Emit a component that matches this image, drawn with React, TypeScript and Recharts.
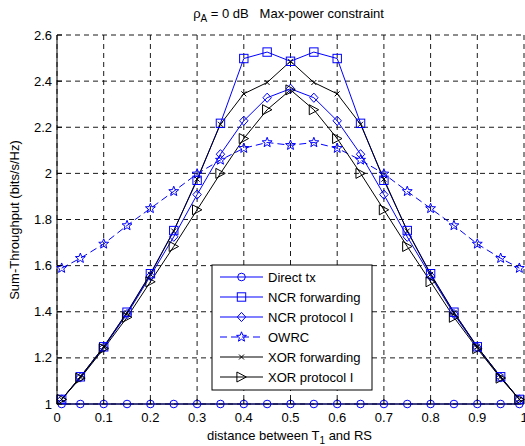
import React from 'react';
import { LineChart, Line, XAxis, YAxis, CartesianGrid } from 'recharts';

const distances = [0.01, 0.05, 0.1, 0.15, 0.2, 0.25, 0.3, 0.35, 0.4, 0.45, 0.5, 0.55, 0.6, 0.65, 0.7, 0.75, 0.8, 0.85, 0.9, 0.95, 0.99];
const directTx = [1, 1, 1, 1, 1, 1, 1, 1, 1, 1, 1, 1, 1, 1, 1, 1, 1, 1, 1, 1, 1];
const ncrForwarding = [1.02, 1.118, 1.248, 1.398, 1.565, 1.752, 1.97, 2.217, 2.498, 2.526, 2.486, 2.526, 2.498, 2.217, 1.97, 1.752, 1.565, 1.398, 1.248, 1.118, 1.02];
const ncrProtocolI = [1.02, 1.115, 1.245, 1.39, 1.555, 1.725, 1.908, 2.083, 2.228, 2.328, 2.367, 2.328, 2.228, 2.083, 1.908, 1.725, 1.555, 1.39, 1.245, 1.115, 1.02];
const owrc = [1.589, 1.632, 1.694, 1.774, 1.848, 1.922, 1.998, 2.058, 2.109, 2.134, 2.122, 2.134, 2.109, 2.058, 1.998, 1.922, 1.848, 1.774, 1.694, 1.632, 1.589];
const xorForwarding = [1.02, 1.118, 1.248, 1.396, 1.562, 1.75, 1.975, 2.213, 2.345, 2.394, 2.486, 2.394, 2.345, 2.213, 1.975, 1.75, 1.562, 1.396, 1.248, 1.118, 1.02];
const xorProtocolI = [1.02, 1.112, 1.24, 1.376, 1.53, 1.683, 1.842, 2.0, 2.151, 2.276, 2.362, 2.276, 2.151, 2.0, 1.842, 1.683, 1.53, 1.376, 1.24, 1.112, 1.02];

const xTicks = [0, 0.1, 0.2, 0.3, 0.4, 0.5, 0.6, 0.7, 0.8, 0.9, 1];
const xTickLabels = ['0', '0.1', '0.2', '0.3', '0.4', '0.5', '0.6', '0.7', '0.8', '0.9', '1'];
const yTicks = [1, 1.2, 1.4, 1.6, 1.8, 2, 2.2, 2.4, 2.6];
const yTickLabels = ['1', '1.2', '1.4', '1.6', '1.8', '2', '2.2', '2.4', '2.6'];

const BLUE = '#0000ff';
const BLACK = '#000000';
const FONT = '"Liberation Sans", Arial, Helvetica, sans-serif';

type MarkerKind = 'circle' | 'square' | 'diamond' | 'star' | 'x' | 'triangle';

const series: { key: string; name: string; color: string; marker: MarkerKind; dash?: string; values: number[] }[] = [
  { key: 'direct', name: 'Direct tx', color: BLUE, marker: 'circle', values: directTx },
  { key: 'ncrFwd', name: 'NCR forwarding', color: BLUE, marker: 'square', values: ncrForwarding },
  { key: 'ncrProt', name: 'NCR protocol I', color: BLUE, marker: 'diamond', values: ncrProtocolI },
  { key: 'owrc', name: 'OWRC', color: BLUE, marker: 'star', dash: '7 4', values: owrc },
  { key: 'xorFwd', name: 'XOR forwarding', color: BLACK, marker: 'x', values: xorForwarding },
  { key: 'xorProt', name: 'XOR protocol I', color: BLACK, marker: 'triangle', values: xorProtocolI },
];

const data = distances.map((d, i) => {
  const row: Record<string, number> = { d };
  series.forEach((s) => {
    row[s.key] = s.values[i];
  });
  return row;
});

function starPoints(cx: number, cy: number, ro: number, ri: number) {
  const pts: string[] = [];
  for (let i = 0; i < 10; i++) {
    const r = i % 2 === 0 ? ro : ri;
    const a = -Math.PI / 2 + (i * Math.PI) / 5;
    pts.push(`${cx + r * Math.cos(a)},${cy + r * Math.sin(a)}`);
  }
  return pts.join(' ');
}

function Marker({ kind, cx, cy, color }: { kind: MarkerKind; cx: number; cy: number; color: string }) {
  const common = { fill: 'none', stroke: color, strokeWidth: 1 };
  switch (kind) {
    case 'circle':
      return <circle cx={cx} cy={cy} r={3.8} {...common} />;
    case 'square':
      return <rect x={cx - 4.2} y={cy - 4.2} width={8.4} height={8.4} {...common} />;
    case 'diamond':
      return <polygon points={`${cx},${cy - 4.6} ${cx + 4.2},${cy} ${cx},${cy + 4.6} ${cx - 4.2},${cy}`} {...common} />;
    case 'star':
      return <polygon points={starPoints(cx, cy, 5.2, 2.2)} {...common} />;
    case 'x':
      return (
        <g stroke={color} strokeWidth={1}>
          <line x1={cx - 2.5} y1={cy - 2.5} x2={cx + 2.5} y2={cy + 2.5} />
          <line x1={cx - 2.5} y1={cy + 2.5} x2={cx + 2.5} y2={cy - 2.5} />
        </g>
      );
    case 'triangle':
      return <polygon points={`${cx + 4.8},${cy} ${cx - 4.6},${cy - 5} ${cx - 4.6},${cy + 5}`} {...common} />;
  }
  return null;
}

function labelFor(v: number, ticks: number[], labels: string[]) {
  const i = ticks.findIndex((t) => Math.abs(t - v) < 1e-9);
  return i >= 0 ? labels[i] : String(v);
}

const BottomTick = (props: any) => {
  const { x, y, payload } = props;
  return (
    <g>
      <line x1={x} x2={x} y1={y} y2={y - 5} stroke={BLACK} />
      <text x={x} y={y + 17.5} textAnchor="middle" fontSize={13} fontFamily={FONT} fill={BLACK}>
        {labelFor(payload.value, xTicks, xTickLabels)}
      </text>
    </g>
  );
};

const LeftTick = (props: any) => {
  const { x, y, payload } = props;
  return (
    <g>
      <line x1={x} x2={x + 5} y1={y} y2={y} stroke={BLACK} />
      <text x={x - 5} y={y + 4.6} textAnchor="end" fontSize={13} fontFamily={FONT} fill={BLACK}>
        {labelFor(payload.value, yTicks, yTickLabels)}
      </text>
    </g>
  );
};

const TopTick = (props: any) => {
  const { x, y } = props;
  return <line x1={x} x2={x} y1={y} y2={y + 5} stroke={BLACK} />;
};

const RightTick = (props: any) => {
  const { x, y } = props;
  return <line x1={x} x2={x - 5} y1={y} y2={y} stroke={BLACK} />;
};

function Legend() {
  const rowH = 20;
  return (
    <g transform="translate(212,265)">
      <rect x={0} y={0} width={160} height={125} fill="#fff" stroke={BLACK} strokeWidth={1} />
      {series.map((s, i) => {
        const cy = 12 + i * rowH;
        return (
          <g key={s.key}>
            <line x1={8} x2={51} y1={cy} y2={cy} stroke={s.color} strokeWidth={1} strokeDasharray={s.dash} />
            <Marker kind={s.marker} cx={29.5} cy={cy} color={s.color} />
            <text x={56} y={cy + 4.6} fontSize={13} fontFamily={FONT} fill={BLACK}>
              {s.name}
            </text>
          </g>
        );
      })}
    </g>
  );
}

export default function App() {
  return (
    <div style={{ position: 'absolute', left: 0, top: 0, width: 525, height: 446, background: '#fff' }}>
      <LineChart width={525} height={446} data={data} margin={{ top: 35, right: 1, bottom: 0, left: 0 }}>
        <CartesianGrid stroke={BLACK} strokeDasharray="5 4" strokeWidth={0.9} verticalPoints={undefined} />
        <XAxis
          dataKey="d"
          type="number"
          domain={[0, 1]}
          ticks={xTicks}
          height={42}
          tickSize={0}
          tickMargin={0}
          tickLine={false}
          axisLine={{ stroke: BLACK }}
          tick={<BottomTick />}
          interval={0}
        />
        <XAxis
          xAxisId="top"
          orientation="top"
          dataKey="d"
          type="number"
          domain={[0, 1]}
          ticks={xTicks}
          height={0}
          tickSize={0}
          tickMargin={0}
          tickLine={false}
          axisLine={{ stroke: BLACK }}
          tick={<TopTick />}
          interval={0}
        />
        <YAxis
          type="number"
          domain={[1, 2.6]}
          ticks={yTicks}
          width={57}
          tickSize={0}
          tickMargin={0}
          tickLine={false}
          axisLine={{ stroke: BLACK }}
          tick={<LeftTick />}
          interval={0}
        />
        <YAxis
          yAxisId="right"
          orientation="right"
          type="number"
          domain={[1, 2.6]}
          ticks={yTicks}
          width={0}
          tickSize={0}
          tickMargin={0}
          tickLine={false}
          axisLine={{ stroke: BLACK }}
          tick={<RightTick />}
          interval={0}
        />
        {series.map((s) => (
          <Line
            key={s.key}
            dataKey={s.key}
            name={s.name}
            stroke={s.color}
            strokeWidth={1}
            strokeDasharray={s.dash}
            isAnimationActive={false}
            dot={(p: any) => <Marker key={`${s.key}-${p.index}`} kind={s.marker} cx={p.cx} cy={p.cy} color={s.color} />}
            activeDot={false}
          />
        ))}
      </LineChart>
      <svg width={525} height={446} style={{ position: 'absolute', left: 0, top: 0, pointerEvents: 'none' }}>
        <text x={288.5} y={18} textAnchor="middle" fontSize={13} fontFamily={FONT} fill={BLACK} style={{ whiteSpace: 'pre' }}>
          ρ<tspan dy={4} fontSize={10}>A</tspan>
          <tspan dy={-4}>{' = 0 dB   Max-power constraint'}</tspan>
        </text>
        <text x={289.5} y={440} textAnchor="middle" fontSize={13} fontFamily={FONT} fill={BLACK}>
          distance between T<tspan dy={4} fontSize={10}>1</tspan>
          <tspan dy={-4}> and RS</tspan>
        </text>
        <text x={19} y={220} transform="rotate(-90,19,220)" textAnchor="middle" fontSize={13} fontFamily={FONT} fill={BLACK}>
          Sum-Throughput (bits/s/Hz)
        </text>
        <Legend />
      </svg>
    </div>
  );
}
